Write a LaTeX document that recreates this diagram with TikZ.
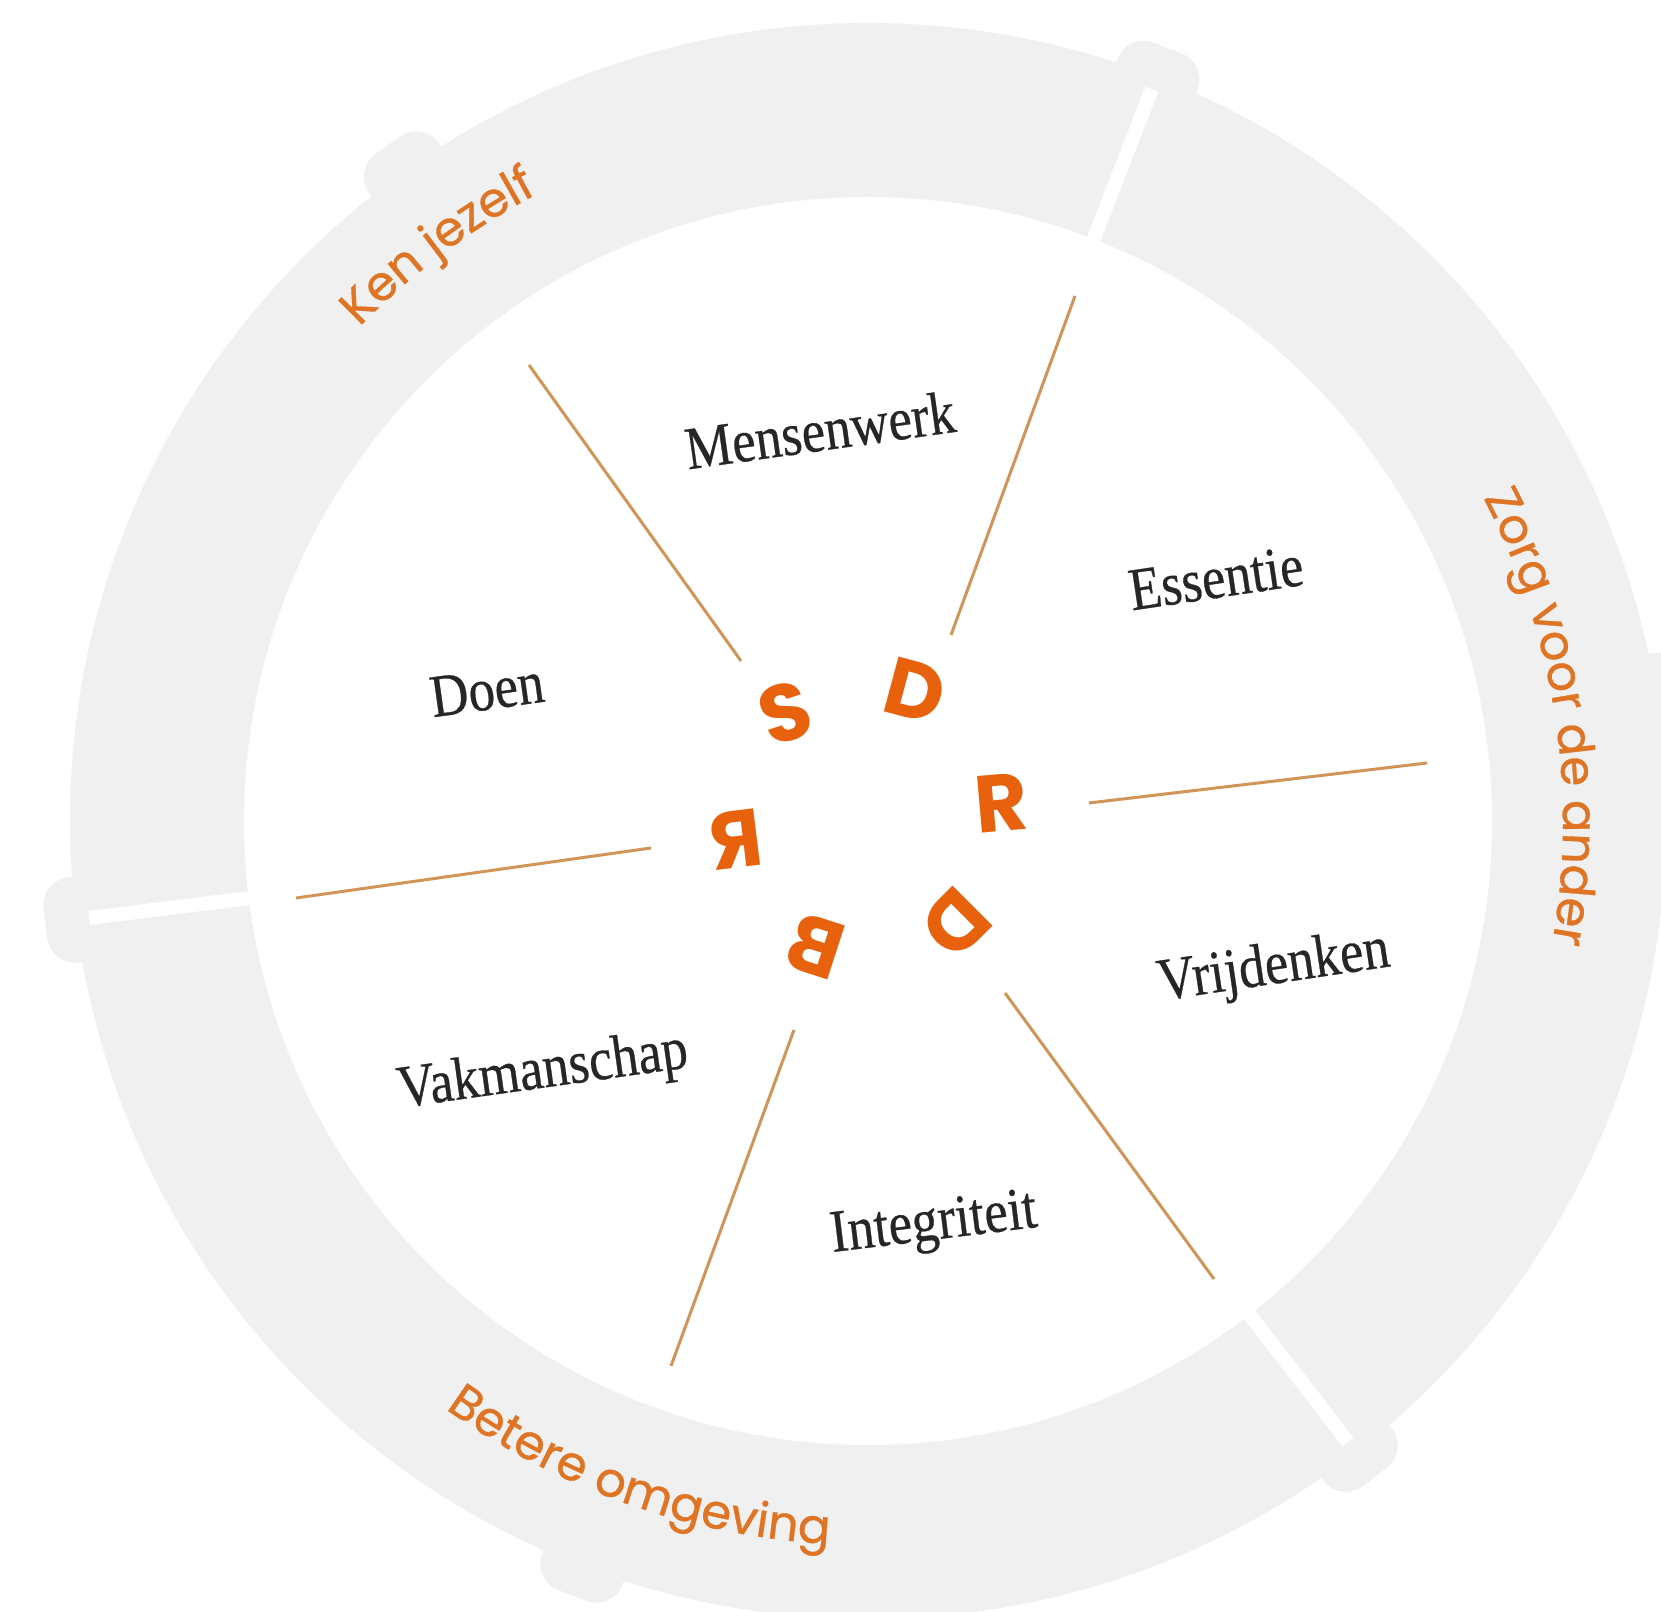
\documentclass[tikz,border=0pt]{standalone}
\usepackage{fontspec}
\setmainfont{Liberation Serif}
\newfontfamily\wordfont{Liberation Serif}[FakeBold=0.5]
\newfontfamily\labfont{Poppins}[FakeBold=0.7]
\newfontfamily\ltrfont{Poppins}
\usetikzlibrary{decorations.text}
\definecolor{ringgrey}{HTML}{F0F0F0}
\definecolor{spokecol}{HTML}{D1955A}
\definecolor{labor}{HTML}{DF7425}
\definecolor{ltror}{HTML}{E8620E}
\definecolor{serifink}{HTML}{262626}
\begin{document}
\begin{tikzpicture}[x=0.1mm,y=0.1mm,
  word/.style={font=\wordfont\fontsize{17.2}{20}\selectfont, text=serifink, inner sep=0pt, xscale=0.87},
  letter/.style={font=\ltrfont\bfseries\fontsize{23}{26}\selectfont, text=ltror, inner sep=0pt},
  spoke/.style={draw=spokecol, line width=0.3mm},
  gapline/.style={draw=white, line width=1.4mm},
  bump/.style={fill=ringgrey, rounded corners=2.8mm},
  ringlabel/.style={decorate, decoration={text along path, text align=center, text={|\labfont\fontsize{13.7}{16}\selectfont\color{labor}|#1}}}
]
\fill[white] (0,0) rectangle (1661,1612);
\useasboundingbox (0,0) rectangle (1661,1612);
\clip (0,0) rectangle (1661,1612);
\coordinate (C) at (868,791);
% grey ring
\fill[ringgrey, even odd rule] (C) circle[radius=798] (C) circle[radius=624];
% tabs at the joints
\foreach \a in {9,68.8,125.4,187.1,249.1,307.7}{
  \begin{scope}[shift={(C)}, rotate=\a]
    \path[bump] (760,-43) rectangle (829,43);
  \end{scope}
}
% white gaps
\foreach \a in {68.8,187.1,307.7}{
  \begin{scope}[shift={(C)}, rotate=\a]
    \draw[gapline] (605,0) -- (785,0);
  \end{scope}
}
% ring labels
\path[shift={(C)}, ringlabel={Ken jezelf}] (156.8:709) arc[start angle=156.8, end angle=96.8, radius=709];
\path[shift={(C)}, ringlabel={Zorg voor de ander}] (38.8:695) arc[start angle=38.8, end angle=-21.2, radius=695];
\path[shift={(C)}, ringlabel={Betere omgeving}] (220.6:724) arc[start angle=220.6, end angle=280.6, radius=724];
% spokes
\coordinate (s1o) at (529,1247); \coordinate (s1i) at (741,951);
\coordinate (s2o) at (1075,1316); \coordinate (s2i) at (951,977);
\coordinate (s3i) at (1089,809); \coordinate (s3o) at (1427,849);
\coordinate (s4i) at (1005,619); \coordinate (s4o) at (1214,333);
\coordinate (s5i) at (794,582); \coordinate (s5o) at (671,246);
\coordinate (s6o) at (296,714); \coordinate (s6i) at (651,764);
\draw[spoke] (s1o) -- (s1i);
\draw[spoke] (s2o) -- (s2i);
\draw[spoke] (s3i) -- (s3o);
\draw[spoke] (s4i) -- (s4o);
\draw[spoke] (s5i) -- (s5o);
\draw[spoke] (s6o) -- (s6i);
% sector words
\node[rotate=8, word] (mens) at (820,1182) {Mensenwerk};
\node[rotate=8, word] (doen) at (487,922) {Doen};
\node[rotate=8.5, word] (ess) at (1216,1034) {Essentie};
\node[rotate=8, word] (vak) at (543,539) {Vakmanschap};
\node[rotate=8.5, word] (vrij) at (1274,643) {Vrijdenken};
\node[rotate=7, word] (integ) at (934,386) {Integriteit};
% central letters
\node[letter, rotate=18] (ls) at (785,899) {S};
\node[letter, rotate=-15] (ld1) at (915,921) {D};
\node[letter, rotate=5] (lr1) at (1001,809) {R};
\node[letter, rotate=7, xscale=-1] (lr2) at (736,772) {R};
\node[letter, rotate=-18, xscale=-1] (lb) at (816,666) {B};
\node[letter, rotate=-135] (ld2) at (956,689) {D};
\end{tikzpicture}
\end{document}
